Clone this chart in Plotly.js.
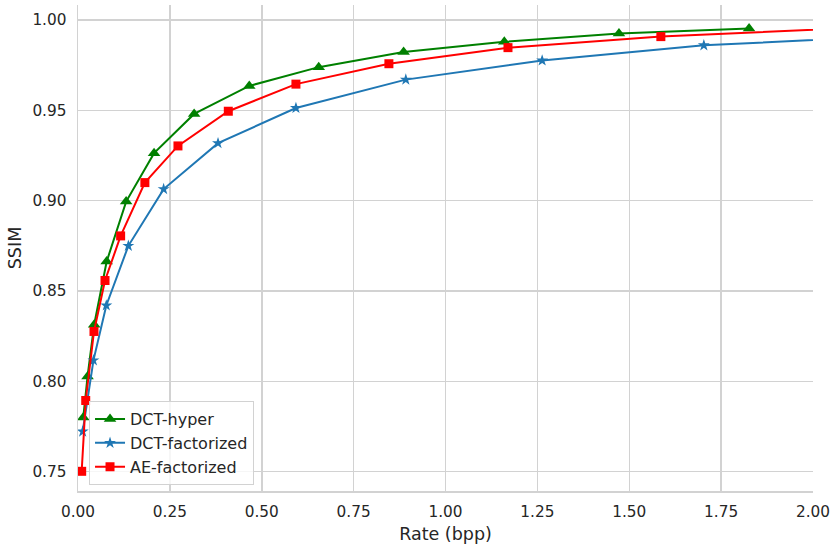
<!DOCTYPE html>
<html>
<head>
<meta charset="utf-8">
<script src="https://cdn.plot.ly/plotly-3.0.1.min.js"></script>
<style>
  body { margin: 0; background: #fff; }
  #chart { width: 840px; height: 550px; }
</style>
</head>
<body>
<div id="chart"></div>
<script>
// values
const hyper_rate = [0.0144, 0.026, 0.044, 0.078, 0.131, 0.207, 0.316, 0.466, 0.655, 0.886, 1.160, 1.472, 1.826]
const hyper_ssim = [0.7800, 0.8027, 0.8313, 0.8663, 0.8995, 0.9263, 0.9480, 0.9635, 0.9739, 0.9823, 0.9879, 0.9925, 0.9953]

const fact_rate = [0.0127, 0.042, 0.077, 0.137, 0.233, 0.381, 0.593, 0.892, 1.263, 1.703, 2.300]
const fact_ssim = [0.7722, 0.8116, 0.8420, 0.8750, 0.9064, 0.9318, 0.9513, 0.9670, 0.9776, 0.9860, 0.9918]

const ae_rate = [0.010, 0.021, 0.0435, 0.0735, 0.116, 0.182, 0.272, 0.409, 0.593, 0.846, 1.170, 1.586, 2.250]
const ae_ssim = [0.7502, 0.7894, 0.8276, 0.8558, 0.8805, 0.9100, 0.9303, 0.9495, 0.9645, 0.9758, 0.9847, 0.9908, 0.9970]

const x_ticks = [0, 0.25, 0.5, 0.75, 1.0, 1.25, 1.5, 1.75, 2.0]
const y_ticks = [0.75, 0.80, 0.85, 0.90, 0.95, 1.00]

const font_family = "DejaVu Sans, sans-serif"
const text_color = "#262626"
const grid_color = "#d2d2d2"

const data = [
    {
        x: hyper_rate, y: hyper_ssim, name: 'DCT-hyper',
        mode: 'lines+markers',
        line: { color: 'green', width: 2 },
        marker: { symbol: 'triangle-up', size: 11, color: 'green' },
    },
    {
        x: fact_rate, y: fact_ssim, name: 'DCT-factorized',
        mode: 'lines+markers',
        line: { color: '#1f77b4', width: 2 },
        marker: { symbol: 'star', size: 9, color: '#1f77b4' },
    },
    {
        x: ae_rate, y: ae_ssim, name: 'AE-factorized',
        mode: 'lines+markers',
        line: { color: 'red', width: 2 },
        marker: { symbol: 'square', size: 9, color: 'red' },
    },
]

const layout = {
    width: 840,
    height: 550,
    paper_bgcolor: '#fff',
    plot_bgcolor: '#fff',
    font: { family: font_family, size: 15, color: text_color },
    margin: { l: 78, r: 27, t: 5, b: 59 },
    showlegend: true,
    legend: {
        x: 0.015, y: 0.012, xanchor: 'left', yanchor: 'bottom',
        bgcolor: 'rgba(255,255,255,0.8)',
        bordercolor: grid_color, borderwidth: 1,
        font: { family: font_family, size: 16, color: text_color },
        tracegroupgap: 0,
    },
    xaxis: {
        title: { text: 'Rate (bpp)', font: { size: 17.5 }, standoff: 8 },
        range: [0, 2],
        tickvals: x_ticks,
        tickformat: '.2f',
        ticklabelstandoff: 6,
        showgrid: true, gridcolor: grid_color, gridwidth: 1.5,
        showline: true, linecolor: grid_color, linewidth: 1.5,
        zeroline: false,
        ticks: '',
        tickfont: { size: 15.3 },
    },
    yaxis: {
        title: { text: 'SSIM', font: { size: 17.5 }, standoff: 6 },
        range: [0.7393, 1.0083],
        tickvals: y_ticks,
        tickformat: '.2f',
        ticklabelstandoff: 7,
        showgrid: true, gridcolor: grid_color, gridwidth: 1.5,
        showline: true, linecolor: grid_color, linewidth: 1.5,
        zeroline: false,
        ticks: '',
        tickfont: { size: 15.3 },
    },
}

Plotly.newPlot('chart', data, layout, { displaylogo: false, displayModeBar: false, staticPlot: true })
</script>
</body>
</html>
